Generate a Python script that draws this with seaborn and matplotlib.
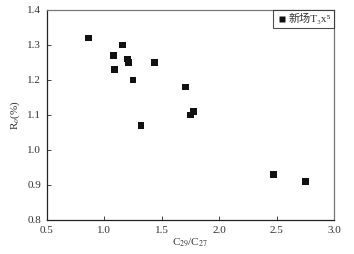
import pandas as pd
import matplotlib.pyplot as plt
import seaborn as sns

c29_c27 = [0.86, 1.16, 1.08, 1.20, 1.21, 1.09, 1.25, 1.44, 1.71, 1.32, 1.75, 1.775, 2.47, 2.75]
ro = [1.32, 1.30, 1.27, 1.26, 1.25, 1.23, 1.20, 1.25, 1.18, 1.07, 1.10, 1.11, 0.93, 0.91]
x_ticks = [0.5, 1.0, 1.5, 2.0, 2.5, 3.0]
y_ticks = [0.8, 0.9, 1.0, 1.1, 1.2, 1.3, 1.4]

data = pd.DataFrame({'C29/C27': c29_c27, 'Ro': ro, 'group': '新场T₃x⁵'})

sns.set_style('ticks')
plt.rcParams['font.family'] = ['Liberation Serif', 'Noto Sans CJK SC', 'DejaVu Sans']
plt.rcParams['mathtext.fontset'] = 'stix'
plt.rcParams['xtick.direction'] = 'in'
plt.rcParams['ytick.direction'] = 'in'

fig = plt.figure(figsize=(3.54, 2.54), dpi=100)
ax = fig.add_axes([0.132, 0.134, 0.812, 0.827])
sns.scatterplot(data=data, x='C29/C27', y='Ro', hue='group', palette=['#111111'],
                marker='s', s=24, edgecolor='none', ax=ax)

ax.set_xlim(0.5, 3.0)
ax.set_ylim(0.8, 1.4)
ax.set_xticks(x_ticks)
ax.set_yticks(y_ticks)
ax.set_xticklabels([f'{v:.1f}' for v in x_ticks], fontsize=8, color='#333333')
ax.set_yticklabels([f'{v:.1f}' for v in y_ticks], fontsize=8, color='#333333')
ax.tick_params(length=3, width=0.7, color='#444444', pad=4)
ax.set_xlabel('C$_{29}$/C$_{27}$', fontsize=8, color='#333333', labelpad=1)
ax.set_ylabel('R$_o$(%)', fontsize=8, color='#333333', labelpad=4)
for side in ['left', 'bottom']:
    ax.spines[side].set_color('#222222')
    ax.spines[side].set_linewidth(0.9)
for side in ['top', 'right']:
    ax.spines[side].set_color('#777777')
    ax.spines[side].set_linewidth(0.9)

leg = ax.legend(loc='upper right', fontsize=8, frameon=True, fancybox=False,
                borderaxespad=0.0, handletextpad=0.1, borderpad=0.3,
                handlelength=1.0, markerscale=0.9)
leg.get_frame().set_edgecolor('#222222')
leg.get_frame().set_linewidth(0.8)
for t in leg.get_texts():
    t.set_color('#333333')

fig.savefig('out.png', dpi=100)
